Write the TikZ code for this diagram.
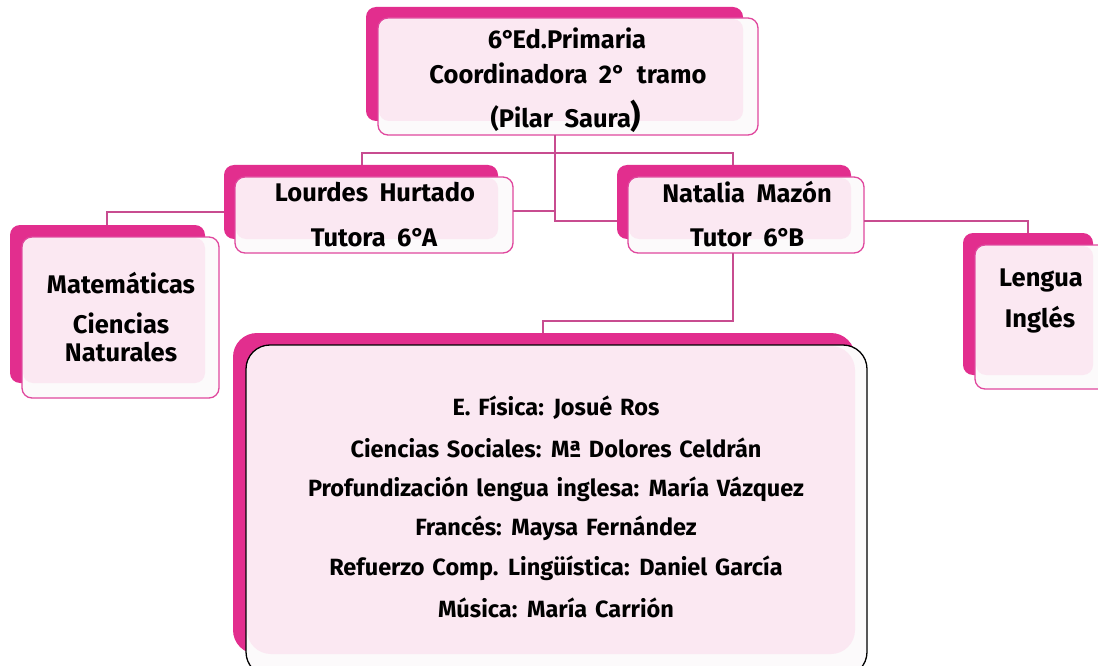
\documentclass[tikz,border=0pt]{standalone}
\usepackage{fontspec}
\setmainfont{Fira Sans}
\usetikzlibrary{calc}
\definecolor{dk}{HTML}{E22E8E}
\definecolor{lt}{HTML}{FBE8F2}
\definecolor{wh}{HTML}{FCFAFB}
\definecolor{bd}{HTML}{E0489E}
\definecolor{cn}{HTML}{C84C90}
\newcommand\widesp{\spaceskip=0.45em\relax}
\newcommand\midsp{\spaceskip=0.33em\relax}
\newcommand\degr{°\kern-2.5pt}
\tikzset{
  backbox/.style={fill=dk, draw=none, rounded corners=\rad, inner sep=0pt, outer sep=0pt},
  frontbox/.style={fill=wh, draw=none, rounded corners=\rad, inner sep=0pt, outer sep=0pt},
  conn/.style={draw=cn, line width=1.6pt},
  txt/.style={font=\bfseries\fontsize{25.5}{28}\selectfont, inner sep=0pt, execute at begin node=\widesp},
  bigtxt/.style={font=\bfseries\fontsize{23.5}{26}\selectfont, inner sep=0pt, execute at begin node=\midsp}
}
\newcommand\rad{10pt}
\newcommand\bcol{bd}
% name, back x1 y1 x2 y2, front x1 y1 x2 y2
\newcommand\pbox[9]{%
  \node[backbox, anchor=north west, minimum width={(#4)-(#2)}, minimum height={(#5)-(#3)}] (#1b) at (#2,#3) {};
  \node[frontbox, anchor=north west, minimum width={(#8)-(#6)}, minimum height={(#9)-(#7)}] (#1) at (#6,#7) {};
  \fill[lt, rounded corners=\rad] ($(#1.north west)+(1,1)$) rectangle (#1b.south east);
  \draw[draw=\bcol, line width=1.3pt, rounded corners=\rad] (#1.north west) rectangle (#1.south east);
}
\begin{document}
\begin{tikzpicture}[x=1pt, y=-1pt]
\useasboundingbox (0,0) rectangle (1098,666);
\clip (0,0) rectangle (1098,666);
\fill[white] (0,0) rectangle (1098,666);

% boxes
\pbox{top}{366}{7}{743}{121}{378}{18}{758}{135}
\pbox{lou}{224}{165}{498}{239}{235}{177}{513}{253}
\pbox{nat}{617}{165}{851}{239}{628}{177}{864}{253}
\pbox{mat}{10}{225}{205}{383}{22}{237}{219}{398}
\pbox{len}{963}{233}{1093}{375}{975}{245}{1110}{389}
\renewcommand\rad{24pt}
\renewcommand\bcol{black}
\pbox{big}{233}{333}{855}{654}{246}{345}{867}{676}

% connectors
\draw[conn] (555,0 |- top.south) -- (555,221) -- (natb.west |- 0,221);
\draw[conn] (lou.east |- 0,211) -- (555,211);
\draw[conn] (362,0 |- loub.north) -- (362,153) -- (733,153) -- (733,0 |- natb.north);
\draw[conn] (loub.west |- 0,212) -- (107,212) -- (107,0 |- matb.north);
\draw[conn] (nat.east |- 0,221) -- (1028,221) -- (1028,0 |- lenb.north);
\draw[conn] (733,0 |- nat.south) -- (733,321) -- (543,321) -- (543,0 |- bigb.north);

% texts
\node[txt] (t1) at (567,38) {6\degr Ed.Primaria};
\node[txt] (t2) at (568,73) {Coordinadora 2° tramo};
\node[txt] (t3) at (566,116) {(Pilar Saura{\fontsize{32}{32}\selectfont)}};
\node[txt] (l1) at (375,192) {Lourdes Hurtado};
\node[txt] (l2) at (374,238) {Tutora 6\degr A};
\node[txt] (n1) at (747,192) {Natalia Mazón};
\node[txt] (n2) at (747,238) {Tutor 6\degr B};
\node[txt] (m1) at (121,283) {Matemáticas};
\node[txt] (m2) at (121,323) {Ciencias};
\node[txt] (m3) at (121,352) {Naturales};
\node[txt] (g1) at (1041,280) {Lengua};
\node[txt] (g2) at (1040,320) {Inglés};
\node[bigtxt] (b1) at (556,408) {E. Física: Josué Ros};
\node[bigtxt] (b2) at (556,448) {Ciencias Sociales: Mª Dolores Celdrán};
\node[bigtxt] (b3) at (556,489) {Profundización lengua inglesa: María Vázquez};
\node[bigtxt] (b4) at (556,528) {Francés: Maysa Fernández};
\node[bigtxt] (b5) at (556,568) {Refuerzo Comp. Lingüística: Daniel García};
\node[bigtxt] (b6) at (556,608) {Música: María Carrión};
\end{tikzpicture}
\end{document}
